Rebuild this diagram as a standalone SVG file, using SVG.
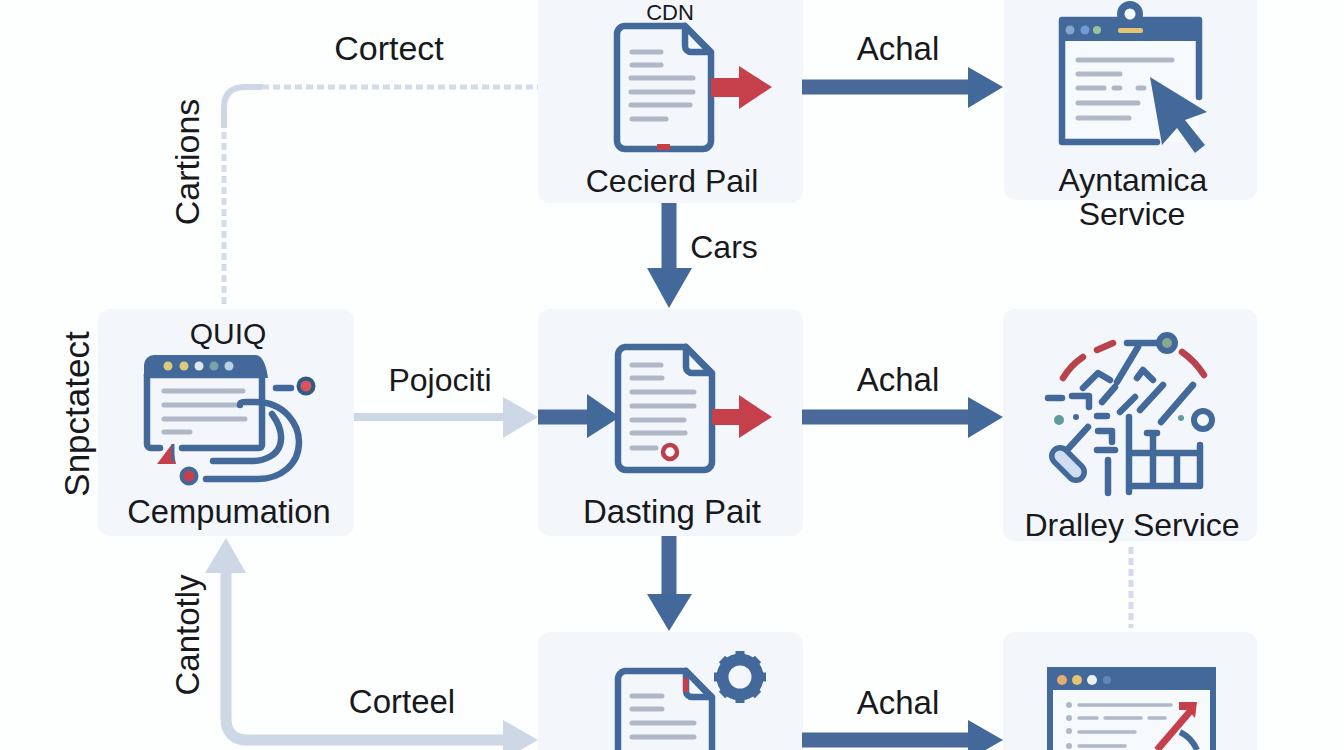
<svg xmlns="http://www.w3.org/2000/svg" width="1344" height="750" viewBox="0 0 1344 750">
<style>
.card{fill:#f3f7fb}
.t{font-family:"Liberation Sans",Arial,sans-serif;font-size:32px;fill:#17191c;text-anchor:middle}
.e{font-size:33px}
.ln{stroke:#b0b8c8;stroke-width:5;fill:none;stroke-linecap:round}
.b{stroke:#43699a;fill:none;stroke-width:6.5;stroke-linejoin:round;stroke-linecap:round}
.bf{fill:#43699a}
.r{fill:#c5404a}
.main{stroke:#49699a;stroke-width:15;fill:none}
.pale{stroke:#cdd7e5;stroke-width:8;fill:none}
.dash{stroke:#d3dce8;stroke-width:5;fill:none;stroke-dasharray:7 4}
</style>
<defs>
<g id="doc">
<path d="M10 3H71L97 30V118a8 8 0 0 1-8 8H11a8 8 0 0 1-8-8V11a8 8 0 0 1 8-8Z" fill="#f7fafc" class="b"/>
<path d="M71 3V23a6 6 0 0 0 6 6H97Z" fill="#a9c3e2" class="b"/>
</g>
</defs>
<rect width="1344" height="750" fill="#fdfefe"/>

<g id="node-cdn">
<rect class="card" x="538" y="-30" width="265" height="233" rx="12"/>
<use href="#doc" x="614" y="23"/>
<path class="ln" d="M632 52H661M632 65H661M631 78H693M631 92H693M631 105H690M632 119H666"/>
<path class="r" d="M711 78H739V66L772 87L739 109V97H711Z"/>
<rect class="r" x="657" y="144" width="13" height="6"/>
<text class="t" x="670" y="20" style="font-size:22px">CDN</text>
<text class="t" x="672" y="192">Cecierd Pail</text>
</g>

<g id="node-dynamic">
<rect class="card" x="1004" y="-30" width="253" height="230" rx="12"/>
<rect x="1062" y="20" width="137" height="122" fill="#f7fafc"/>
<path class="b" d="M1199 97V20H1062V142H1157"/>
<path class="bf" d="M1059 41V24a7 7 0 0 1 7-7H1195a7 7 0 0 1 7 7V41Z"/>
<circle cx="1130" cy="14" r="13" class="bf"/><circle cx="1130" cy="14" r="5.5" fill="#f7fafc"/>
<circle cx="1070" cy="30" r="4.5" fill="#86a6cc"/><circle cx="1085" cy="30" r="4.5" fill="#6f9bd6"/><circle cx="1097" cy="30" r="4" fill="#9cc29a"/>
<rect x="1118" y="28" width="25" height="5" rx="2" fill="#e4c470"/>
<path class="ln" d="M1078 60H1172M1078 74H1120M1078 88H1104M1114 88H1120M1138 88H1144M1078 103H1138M1078 118H1129"/>
<path class="bf" d="M1150 77L1207 112L1185 120L1205 145L1195 153L1177 128L1162 145Z"/>
<text class="t" x="1133" y="191">Ayntamica</text>
<text class="t" x="1132" y="225">Service</text>
</g>

<g id="node-quic">
<rect class="card" x="98" y="309" width="256" height="227" rx="12"/>
<path d="M147 375H262V445a3 3 0 0 1-3 3H182" fill="#f7fafc" class="b"/>
<path d="M147 375V444a4 4 0 0 0 4 4H160" fill="none" class="b"/>
<path class="bf" d="M144 378V365a10 10 0 0 1 10-10H256Q265 356 268 378Z"/>
<circle cx="168" cy="366" r="4.5" fill="#dccb7c"/><circle cx="184" cy="366" r="4.5" fill="#dccb7c"/><circle cx="199" cy="366" r="4.5" fill="#dfe9ef"/><circle cx="214" cy="366" r="4.5" fill="#76a3a5"/><circle cx="229" cy="366" r="4.5" fill="#b9d2e2"/>
<path class="ln" d="M164 391H243M164 405H240M164 419H245M164 432H190"/>
<path class="b" d="M276 388H291"/>
<circle cx="306" cy="386" r="7.5" fill="#d8535c" stroke="#2f5a86" stroke-width="4"/>
<path class="b" d="M240 405C240 402 242 402 245 402H256C285 402 299 425 299 442C299 465 280 479 258 479H206"/>
<path class="b" d="M272 414C280 425 283 435 280 445C277 455 265 461 252 461H213"/>
<path d="M157 464L172 444L176 464Z" fill="#c5404a"/><path d="M173 444V462" stroke="#43699a" stroke-width="3"/>
<circle cx="189" cy="476" r="7.5" fill="#c5404a" stroke="#43699a" stroke-width="4"/>
<text class="t" x="228" y="344" style="font-size:30px">QUIQ</text>
<text class="t" x="229" y="523" style="font-size:32.7px">Cempumation</text>
</g>

<g id="node-dasting">
<rect class="card" x="538" y="309" width="265" height="227" rx="12"/>
<use href="#doc" x="615" y="344"/>
<path class="ln" d="M632 365H661M632 378H662M632 392H694M632 406H694M632 420H684M632 433H685M632 448H656"/>
<path class="r" d="M712 409H739V395L772 417L739 438V425H712Z"/>
<circle cx="670" cy="452" r="7" fill="#f7fafc" stroke="#b9404c" stroke-width="4.5"/>
<text class="t" x="672" y="523" style="font-size:33px">Dasting Pait</text>
</g>

<g id="node-dralley">
<rect class="card" x="1003" y="309" width="254" height="232" rx="12"/>
<g class="b">
<path d="M1063 378Q1071 365 1083 357" stroke="#b8434b"/>
<path d="M1097 350L1113 343" stroke="#b8434b"/>
<path d="M1182 352Q1195 361 1204 375" stroke="#b8434b"/>
<path d="M1127 343H1160M1138 347L1117 382"/>
<path d="M1083 388L1098 373L1110 380M1102 402L1115 387M1137 378L1143 370L1153 380M1120 412L1135 397M1140 410L1163 385M1161 422L1193 385"/>
<path d="M1048 398H1062M1072 396H1089V407M1097 416H1107"/>
<path d="M1098 431H1112V442M1097 450H1115"/>
<path d="M1088 427L1067 450"/>
<path d="M1108 460V493M1129 417V492M1129 486H1200V445M1129 453H1200M1153 435V486M1177 453V486M1147 433H1157"/>
</g>
<circle cx="1167" cy="343" r="8" fill="#8aa88f" stroke="#43699a" stroke-width="6"/>
<circle cx="1203" cy="420" r="9" fill="#f3f7fb" stroke="#43699a" stroke-width="6"/>
<circle cx="1059" cy="420" r="5" fill="#5f9d9d"/><circle cx="1076" cy="417" r="3" fill="#43699a"/><circle cx="1181" cy="418" r="3" fill="#5f9d9d"/>
<path d="M1060 456L1076 472" stroke="#43699a" stroke-width="22" stroke-linecap="round"/>
<path d="M1060 456L1076 472" stroke="#cfddf1" stroke-width="11" stroke-linecap="round"/>
<text class="t" x="1132" y="536">Dralley Service</text>
</g>

<g id="node-gear">
<rect class="card" x="538" y="632" width="265" height="130" rx="12"/>
<use href="#doc" x="615" y="668"/>
<rect class="r" x="683" y="678" width="5" height="14"/>
<path class="ln" d="M632 696H662M632 709H662M632 723H694M632 737H694"/>
<circle cx="740" cy="677" r="17.5" fill="none" stroke="#43699a" stroke-width="12"/>
<path d="M740 651V658M740 696V703M714 677H721M759 677H766M722 659L727 664M753 690L758 695M758 659L753 664M727 690L722 695" stroke="#43699a" stroke-width="9" fill="none"/>
</g>

<g id="node-browser">
<rect class="card" x="1003" y="632" width="254" height="130" rx="12"/>
<rect x="1050" y="670" width="163" height="100" fill="#f7fafc" stroke="#43699a" stroke-width="6"/>
<path class="bf" d="M1047 690V680a12 12 0 0 1 12-12H1204a12 12 0 0 1 12 12V690Z"/>
<circle cx="1062" cy="680" r="5" fill="#e3ad70"/><circle cx="1077" cy="680" r="5" fill="#e4c470"/><circle cx="1092" cy="680" r="5" fill="#edf2ec"/><circle cx="1107" cy="680" r="4" fill="#5f88bd"/>
<g fill="#b0b8c8"><circle cx="1069" cy="705" r="3"/><circle cx="1069" cy="718" r="3"/><circle cx="1069" cy="731" r="3"/><circle cx="1069" cy="746" r="3"/></g>
<path class="ln" style="stroke-width:3.5" d="M1079 705H1171M1079 718H1097M1105 718H1141M1149 718H1165M1079 732H1135M1079 746H1125"/>
<path d="M1180 732Q1192 738 1197 750" stroke="#43699a" stroke-width="6" fill="none"/>
<path d="M1157 750L1193 708" stroke="#c5404a" stroke-width="7" fill="none"/>
<path class="r" d="M1179 702H1197L1195 718L1188 710H1179Z"/>
</g>

<g id="connectors">
<path class="dash" d="M224 304V125"/>
<path d="M224 128V108Q224 87 245 87H262" fill="none" stroke="#cdd7e5" stroke-width="6"/>
<path class="dash" d="M262 87H538"/>
<path class="main" d="M802 87H970"/><path class="bf" d="M968 67L1003 87L968 108Z"/>
<path class="main" d="M669 203V270"/><path class="bf" d="M647 268H692L669 308Z"/>
<path class="pale" d="M354 417H505"/><path d="M503 397L538 417L503 438Z" fill="#cdd7e5"/>
<path class="main" d="M538 417H590"/><path class="bf" d="M587 394L620 417L587 438Z"/>
<path class="main" d="M802 417H970"/><path class="bf" d="M968 397L1003 417L968 438Z"/>
<path class="main" d="M669 536V595"/><path class="bf" d="M647 594H692L669 631Z"/>
<path class="dash" d="M1131 547V628"/>
<path d="M226 572V718Q226 740 248 740H505" fill="none" stroke="#cdd7e5" stroke-width="11"/>
<path d="M205 573L226 538L246 573Z" fill="#cdd7e5"/>
<path d="M503 720L538 740L503 760Z" fill="#cdd7e5"/>
<path class="main" d="M802 740H970"/><path class="bf" d="M968 720L1003 740L968 760Z"/>
</g>

<g id="labels">
<text class="t e" x="389" y="60" style="font-size:34px">Cortect</text>
<text class="t e" x="898" y="60">Achal</text>
<text class="t" x="724" y="258">Cars</text>
<text class="t" x="440" y="391">Pojociti</text>
<text class="t e" x="898" y="391">Achal</text>
<text class="t e" x="402" y="713">Corteel</text>
<text class="t e" x="898" y="714">Achal</text>
<text class="t" transform="translate(199 162) rotate(-90)" style="font-size:34px">Cartions</text>
<text class="t" transform="translate(89 414) rotate(-90)" style="font-size:35px">Snpctatect</text>
<text class="t" transform="translate(199 635) rotate(-90)" style="font-size:33px">Cantotly</text>
</g>
</svg>
